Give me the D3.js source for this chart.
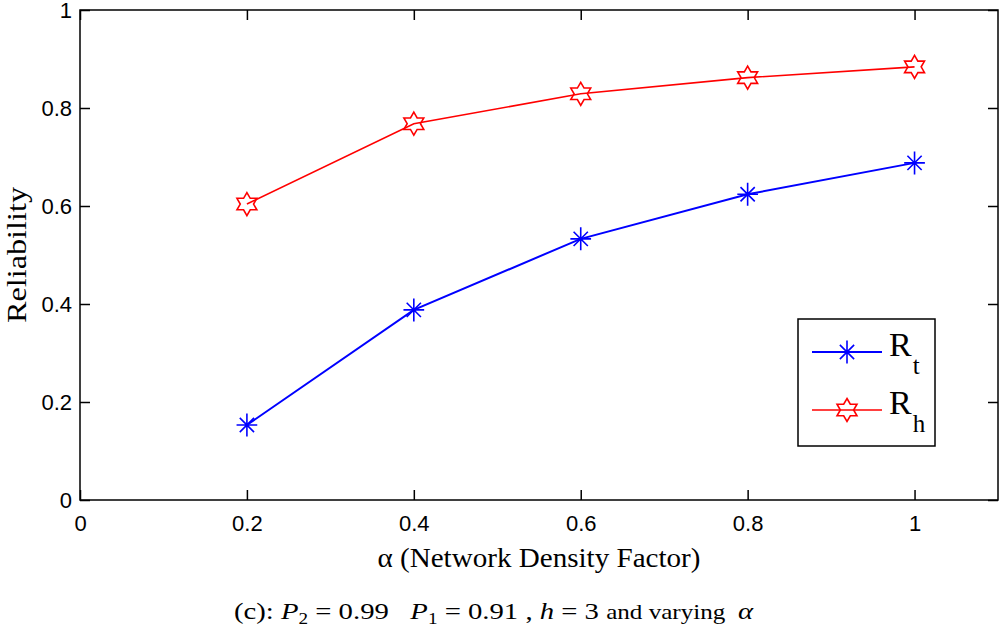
<!DOCTYPE html>
<html>
<head>
<meta charset="utf-8">
<script src="https://cdn.jsdelivr.net/npm/d3@7"></script>
<style>
  body { margin: 0; background: #fff; }
  svg { display: block; }
</style>
</head>
<body>
<div id="chart"></div>
<script>
// values
const alphaValues = [0.2, 0.4, 0.6, 0.8, 1];
const rtValues = [0.153, 0.388, 0.533, 0.624, 0.688];
const rhValues = [0.604, 0.768, 0.829, 0.862, 0.884];
const xTicks = [0, 0.2, 0.4, 0.6, 0.8, 1];
const yTicks = [0, 0.2, 0.4, 0.6, 0.8, 1];

const width = 1000;
const height = 632;
const plotLeft = 80, plotRight = 998, plotTop = 10, plotBottom = 500;

const svg = d3
  .select("#chart")
  .append("svg")
  .attr("width", width)
  .attr("height", height);

const x = d3.scaleLinear().domain([0, 1.1]).range([plotLeft, plotRight]);
const y = d3.scaleLinear().domain([0, 1]).range([plotBottom, plotTop]);

const tickFont = "'Liberation Sans', Arial, sans-serif";
const serif = "'Liberation Serif', 'Times New Roman', serif";

// bottom axis with labels, ticks pointing inward
const xAxis = d3.axisBottom(x)
  .tickValues(xTicks)
  .tickFormat(d3.format("~g"))
  .tickSizeInner(-10)
  .tickSizeOuter(0)
  .tickPadding(15);

const yAxis = d3.axisLeft(y)
  .tickValues(yTicks)
  .tickFormat(d3.format("~g"))
  .tickSizeInner(-10)
  .tickSizeOuter(0)
  .tickPadding(8);

function styleAxis(g) {
  g.select(".domain").remove();
  g.selectAll(".tick line").attr("stroke", "#000").attr("stroke-width", 1.5);
  g.selectAll(".tick text")
    .attr("fill", "#000")
    .style("font-family", tickFont)
    .style("font-size", "22px");
}

svg.append("g")
  .attr("transform", `translate(0,${plotBottom})`)
  .call(xAxis)
  .call(styleAxis);

svg.append("g")
  .attr("transform", `translate(${plotLeft},0)`)
  .call(yAxis)
  .call(styleAxis);

// mirrored ticks on top and right
svg.append("g")
  .attr("transform", `translate(0,${plotTop})`)
  .call(d3.axisTop(x).tickValues(xTicks).tickFormat("").tickSizeInner(-10).tickSizeOuter(0))
  .call(styleAxis);

svg.append("g")
  .attr("transform", `translate(${plotRight},0)`)
  .call(d3.axisRight(y).tickValues(yTicks).tickFormat("").tickSizeInner(-10).tickSizeOuter(0))
  .call(styleAxis);

// axes box
svg.append("rect")
  .attr("x", plotLeft)
  .attr("y", plotTop)
  .attr("width", plotRight - plotLeft)
  .attr("height", plotBottom - plotTop)
  .attr("fill", "none")
  .attr("stroke", "#000")
  .attr("stroke-width", 1.5);

// marker shapes
function hexagramPath(R) {
  const r = R / Math.sqrt(3);
  const pts = d3.range(12).map((k) => {
    const a = (-90 + k * 30) * Math.PI / 180;
    const rad = k % 2 === 0 ? R : r;
    return [rad * Math.cos(a), rad * Math.sin(a)];
  });
  return "M" + pts.map((p) => p.join(",")).join("L") + "Z";
}

function asteriskPath(R) {
  const d = R * 0.62;
  return `M0,${-R}V${R}M${-R * 0.9},0H${R * 0.9}` +
    `M${-d},${-d}L${d},${d}M${-d},${d}L${d},${-d}`;
}

const line = d3.line()
  .x((d) => x(d[0]))
  .y((d) => y(d[1]));

const series = [
  { name: "t", values: rtValues, color: "#0000ff", width: 2, marker: asteriskPath(11.5) },
  { name: "h", values: rhValues, color: "#ff0000", width: 1.6, marker: hexagramPath(11.5) },
];

series.forEach((s) => {
  const pts = alphaValues.map((a, i) => [a, s.values[i]]);
  svg.append("path")
    .datum(pts)
    .attr("fill", "none")
    .attr("stroke", s.color)
    .attr("stroke-width", s.width)
    .attr("d", line);

  svg.append("g")
    .selectAll("path")
    .data(pts)
    .enter()
    .append("path")
    .attr("transform", (d) => `translate(${x(d[0])},${y(d[1])})`)
    .attr("d", s.marker)
    .attr("fill", "none")
    .attr("stroke", s.color)
    .attr("stroke-width", 1.6);
});

// legend
const legend = svg.append("g");
legend.append("rect")
  .attr("x", 798)
  .attr("y", 319)
  .attr("width", 137)
  .attr("height", 127)
  .attr("fill", "#fff")
  .attr("stroke", "#000")
  .attr("stroke-width", 1.5);

series.forEach((s, i) => {
  const ly = 352 + i * 58;
  legend.append("line")
    .attr("x1", 812).attr("x2", 882)
    .attr("y1", ly).attr("y2", ly)
    .attr("stroke", s.color)
    .attr("stroke-width", s.width);
  legend.append("path")
    .attr("transform", `translate(847,${ly})`)
    .attr("d", s.marker)
    .attr("fill", "none")
    .attr("stroke", s.color)
    .attr("stroke-width", 1.6);
  const t = legend.append("text")
    .attr("x", 889)
    .attr("y", ly + 4)
    .style("font-family", serif)
    .style("font-size", "34px")
    .attr("fill", "#000");
  t.append("tspan").text("R");
  t.append("tspan")
    .attr("dy", 18)
    .attr("dx", 1)
    .style("font-size", "25px")
    .text(s.name);
});

// axis titles
svg.append("text")
  .attr("x", (plotLeft + plotRight) / 2)
  .attr("y", 567)
  .attr("text-anchor", "middle")
  .style("font-family", serif)
  .style("font-size", "28px")
  .attr("textLength", 323)
  .attr("lengthAdjust", "spacingAndGlyphs")
  .text("α (Network Density Factor)");

svg.append("text")
  .attr("transform", `translate(26,${(plotTop + plotBottom) / 2}) rotate(-90)`)
  .attr("text-anchor", "middle")
  .style("font-family", serif)
  .style("font-size", "28px")
  .attr("textLength", 136)
  .attr("lengthAdjust", "spacingAndGlyphs")
  .text("Reliability");

// caption
const cap = svg.append("text")
  .attr("x", 234)
  .attr("y", 619)
  .style("font-family", serif)
  .style("font-size", "24px")
  .attr("fill", "#000")
  .attr("textLength", 519)
  .attr("lengthAdjust", "spacingAndGlyphs");
cap.append("tspan").text("(c): ");
cap.append("tspan").style("font-style", "italic").text("P");
cap.append("tspan").attr("dy", 5).style("font-size", "16px").text("2");
cap.append("tspan").attr("dy", -5).text(" = 0.99\u00a0\u00a0\u00a0");
cap.append("tspan").style("font-style", "italic").text("P");
cap.append("tspan").attr("dy", 5).style("font-size", "16px").text("1");
cap.append("tspan").attr("dy", -5).text(" = 0.91 , ");
cap.append("tspan").style("font-style", "italic").text("h");
cap.append("tspan").text(" = 3 ");
cap.append("tspan").style("font-size", "21px").text("and varying\u00a0\u00a0");
cap.append("tspan").style("font-style", "italic").text("α");
</script>
</body>
</html>
